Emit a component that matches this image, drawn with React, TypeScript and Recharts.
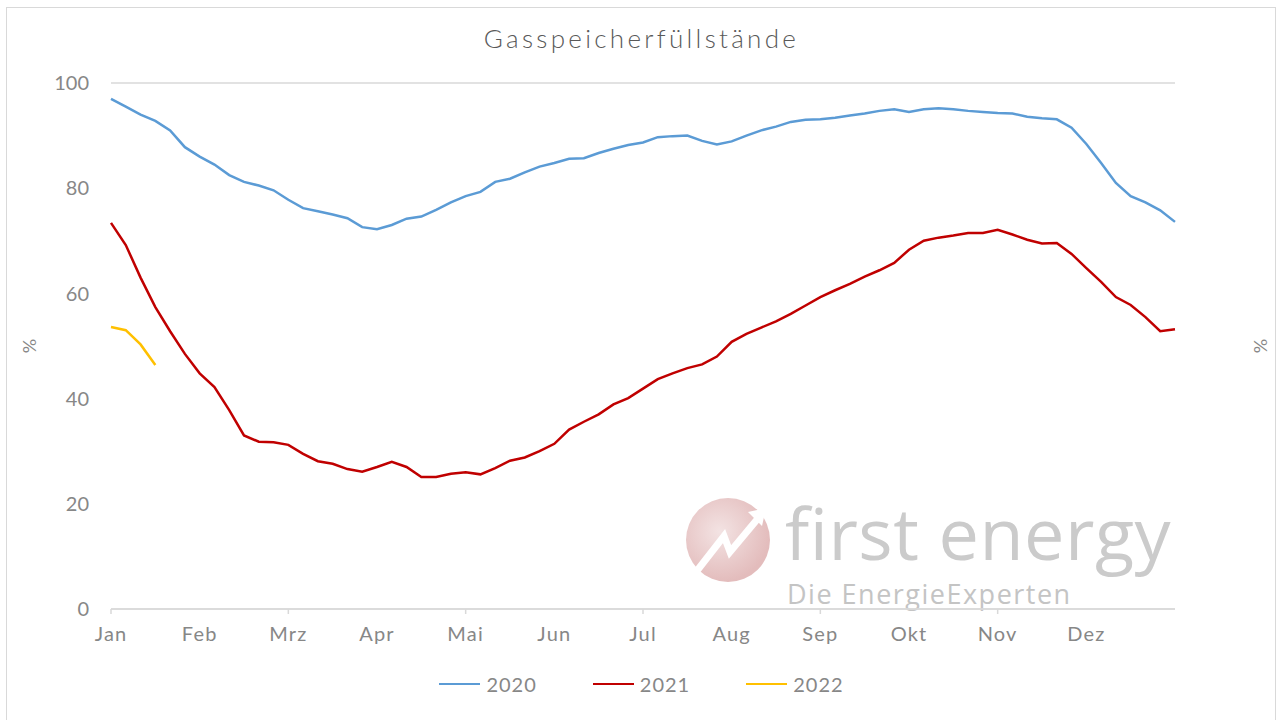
import { LineChart, Line, XAxis, YAxis, CartesianGrid } from 'recharts'

// Gasspeicherfüllstände in %, Werte alle ~5 Tage (1/6 Monat)
const months = ['Jan', 'Feb', 'Mrz', 'Apr', 'Mai', 'Jun', 'Jul', 'Aug', 'Sep', 'Okt', 'Nov', 'Dez']
const yTicks = [0, 20, 40, 60, 80, 100]
const stepsPerMonth = 6

const fill2020 = [
  97.0, 95.5, 94.0, 92.8, 91.0, 87.8, 86.0, 84.5, 82.5, 81.2, 80.5, 79.6,
  77.8, 76.2, 75.6, 75.0, 74.3, 72.6, 72.2, 73.0, 74.2, 74.6, 75.9, 77.3,
  78.5, 79.3, 81.2, 81.8, 83.0, 84.1, 84.8, 85.6, 85.7, 86.7, 87.5, 88.2,
  88.7, 89.7, 89.9, 90.0, 89.0, 88.3, 88.9, 90.0, 91.0, 91.7, 92.6, 93.0,
  93.1, 93.4, 93.8, 94.2, 94.7, 95.0, 94.5, 95.0, 95.2, 95.0, 94.7, 94.5,
  94.3, 94.2, 93.6, 93.3, 93.1, 91.5, 88.4, 84.8, 81.0, 78.5, 77.3, 75.8,
  73.6,
]
const fill2021 = [
  73.4, 69.2, 63.0, 57.4, 52.8, 48.5, 44.8, 42.2, 37.8, 33.0, 31.8, 31.7,
  31.2, 29.5, 28.1, 27.6, 26.6, 26.1, 27.0, 28.0, 27.0, 25.1, 25.1, 25.7,
  26.0, 25.6, 26.8, 28.2, 28.8, 30.0, 31.4, 34.1, 35.6, 37.0, 38.9, 40.1,
  41.9, 43.7, 44.8, 45.8, 46.5, 48.0, 50.8, 52.3, 53.5, 54.7, 56.1, 57.7,
  59.3, 60.6, 61.8, 63.2, 64.4, 65.8, 68.3, 70.0, 70.6, 71.0, 71.5, 71.5,
  72.1, 71.2, 70.2, 69.5, 69.6, 67.5, 64.8, 62.2, 59.3, 57.8, 55.5, 52.8,
  53.2,
]
const fill2022 = [53.6, 53.0, 50.3, 46.4]

const colors = { y2020: '#5B9BD5', y2021: '#C00000', y2022: '#FFC000' }
const legendItems = [
  { name: '2020', color: colors.y2020 },
  { name: '2021', color: colors.y2021 },
  { name: '2022', color: colors.y2022 },
]

const data = fill2020.map((v, i) => ({
  t: i / stepsPerMonth,
  y2020: v,
  y2021: fill2021[i],
  y2022: i < fill2022.length ? fill2022[i] : null,
}))

const FONT = 'Lato, "Open Sans", sans-serif'
const TEXT = '#878787'
const GRID = '#d9d9d9'

function MonthTick(props: any) {
  const { x, y, payload } = props
  const m = payload.value as number
  return (
    <g>
      {m % 2 === 0 && <line x1={x} x2={x} y1={y} y2={y + 5} stroke={GRID} strokeWidth={1.5} />}
      <text x={x} y={y + 32} textAnchor="middle" fill={TEXT} fontSize={20} fontFamily={FONT} letterSpacing={1.2}>
        {months[m]}
      </text>
    </g>
  )
}

export default function App() {
  return (
    <div style={{ position: 'absolute', left: 0, top: 0, width: 1283, height: 720, background: '#fff', fontFamily: FONT }}>
      {/* Rahmen */}
      <div style={{ position: 'absolute', left: 6, top: 7, width: 1270, height: 720, border: `1.5px solid ${GRID}`, boxSizing: 'border-box' }} />

      <div style={{ position: 'absolute', left: 0, top: 22, width: 1283, textAlign: 'center', fontSize: 26, fontWeight: 300, color: '#595959', letterSpacing: 3.3 }}>
        Gasspeicherfüllstände
      </div>

      {/* Wasserzeichen */}
      <svg style={{ position: 'absolute', left: 0, top: 0 }} width={1283} height={720}>
        <defs>
          <radialGradient id="wm" cx="40%" cy="40%" r="60%">
            <stop offset="0%" stopColor="#f3e3e3" />
            <stop offset="100%" stopColor="#e3bcbc" />
          </radialGradient>
        </defs>
        <circle cx={728} cy={540} r={42} fill="url(#wm)" />
        <polyline points="696,572 724,536 730,552 760,516" fill="none" stroke="#fff" strokeWidth={7} strokeLinejoin="miter" />
        <polygon points="748,512 766,508 762,526" fill="#fff" />
        <text x={785} y={560} fontSize={72} fill="#cbcbcb" fontFamily='"Open Sans", sans-serif' letterSpacing={0.5}>first energy</text>
        <text x={787} y={604} fontSize={27} fill="#c4c4c4" fontFamily='"Open Sans", sans-serif' letterSpacing={1.5}>Die EnergieExperten</text>
      </svg>

      <div style={{ position: 'absolute', left: 0, top: 0 }}>
        <LineChart width={1283} height={720} data={data} margin={{ top: 83, right: 20, bottom: 71, left: 20 }}>
          <CartesianGrid vertical={false} stroke={GRID} strokeWidth={1.5} />
          <XAxis
            dataKey="t"
            type="number"
            domain={[0, 12]}
            ticks={months.map((_, i) => i)}
            interval={0}
            height={40}
            tickSize={0}
            tickMargin={0}
            tickLine={false}
            axisLine={{ stroke: GRID, strokeWidth: 1.5 }}
            tick={<MonthTick />}
          />
          <YAxis
            yAxisId="left"
            orientation="left"
            width={91}
            domain={[0, 100]}
            ticks={yTicks}
            tickSize={0}
            tickMargin={22}
            axisLine={false}
            tickLine={false}
            tick={{ fill: TEXT, fontSize: 20, fontFamily: FONT }}
          />
          <YAxis
            yAxisId="right"
            orientation="right"
            width={88}
            domain={[0, 100]}
            ticks={yTicks}
            tickSize={0}
            tickMargin={20}
            axisLine={false}
            tickLine={false}
            tick={{ fill: TEXT, fontSize: 20, fontFamily: FONT }}
          />
          <Line yAxisId="left" type="linear" dataKey="y2020" stroke={colors.y2020} strokeWidth={2.5} dot={false} isAnimationActive={false} />
          <Line yAxisId="left" type="linear" dataKey="y2021" stroke={colors.y2021} strokeWidth={2.5} dot={false} isAnimationActive={false} />
          <Line yAxisId="left" type="linear" dataKey="y2022" stroke={colors.y2022} strokeWidth={2.5} dot={false} isAnimationActive={false} />
        </LineChart>
      </div>

      {/* Achsentitel */}
      <div style={{ position: 'absolute', left: 22, top: 335, fontSize: 18, color: TEXT, transform: 'rotate(-90deg)' }}>%</div>
      <div style={{ position: 'absolute', left: 1253, top: 335, fontSize: 18, color: TEXT, transform: 'rotate(-90deg)' }}>%</div>

      {/* Legende */}
      <div style={{ position: 'absolute', left: 0, top: 672, width: 1283, display: 'flex', justifyContent: 'center', gap: 56, fontSize: 20, color: TEXT, letterSpacing: 1 }}>
        {legendItems.map((it) => (
          <span key={it.name} style={{ display: 'flex', alignItems: 'center', gap: 6 }}>
            <span style={{ display: 'inline-block', width: 41, height: 2.5, background: it.color }} />
            {it.name}
          </span>
        ))}
      </div>
    </div>
  )
}
